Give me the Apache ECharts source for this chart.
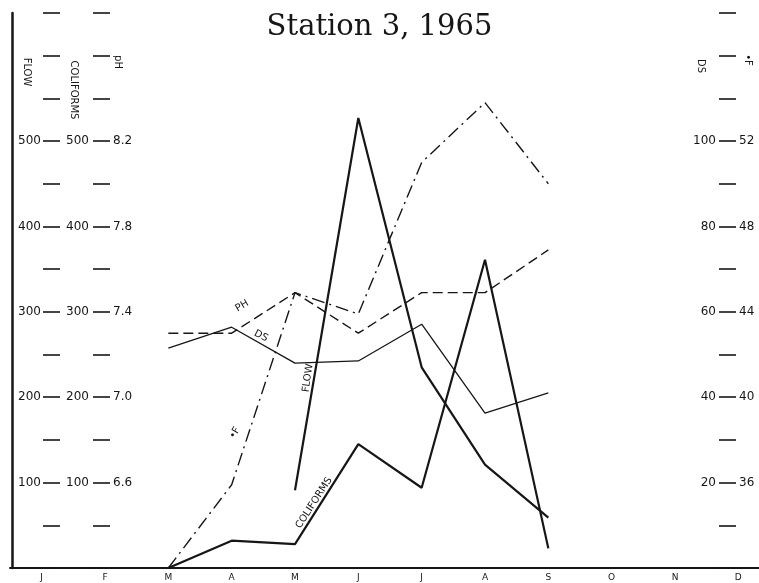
<!DOCTYPE html>
<html>
<head>
<meta charset="utf-8">
<script src="https://cdn.jsdelivr.net/npm/echarts@6/dist/echarts.min.js"></script>
<style>
html,body{margin:0;padding:0;background:#fff;}
#chart{width:759px;height:583px;}
</style>
</head>
<body>
<div id="chart"></div>
<script>
const months = ['J','F','M','A','M','J','J','A','S','O','N','D'];
const flow      = [null,null,null,null,91,527,235,121,59,null,null,null];
const coliforms = [null,null,0,32,28,145,94,361,23,null,null,null];
const ds        = [null,null,51.5,56.4,48,48.5,57.1,36.3,41,null,null,null];
const ph        = [null,null,7.30,7.30,7.49,7.30,7.49,7.49,7.69,null,null,null];
const tempF     = [null,null,32,35.9,44.9,43.9,51.0,53.8,50.0,null,null,null];

const flowTicks = [100,200,300,400,500];
const coliformTicks = [100,200,300,400,500];
const phTicks = ['6.6','7.0','7.4','7.8','8.2'];
const dsTicks = [20,40,60,80,100];
const tempTicks = [36,40,44,48,52];

const INK = '#161616';
const LBL = {fontFamily:'DejaVu Sans', fontSize:12, color:INK};

const chart = echarts.init(document.getElementById('chart'));
const GL = 10, GW = 760, GRX = GL + GW;  // grid right edge x

function tickAxis(extra){
  return Object.assign({
    type:'value', splitLine:{show:false},
    axisLine:{show:false}, axisTick:{show:false}, axisLabel:{show:false}
  }, extra);
}

const option = {
  animation:false,
  backgroundColor:'#fff',
  title:{
    text:'Station 3, 1965', left:'center', top:8,
    textStyle:{fontFamily:'DejaVu Serif', fontSize:29, fontWeight:'normal', color:INK}
  },
  grid:{left:GL, top:13, width:GW, bottom:15, containLabel:false, outerBoundsMode:'none'},
  xAxis:{
    type:'category', data:months, boundaryGap:true,
    axisLine:{lineStyle:{color:INK, width:2}},
    axisTick:{inside:true, length:5, lineStyle:{color:INK, width:1.5}},
    axisLabel:{fontFamily:'DejaVu Sans', fontSize:9, color:INK, margin:5},
    splitLine:{show:false}
  },
  yAxis:[
    tickAxis({min:0, max:650, position:'left', offset:-2,
      axisLine:{show:true, lineStyle:{color:INK, width:2.5}}}),
    tickAxis({min:0, max:650, interval:50, position:'left', offset:-(43-GL),
      axisTick:{show:true, inside:true, length:17, lineStyle:{color:INK, width:1.6}},
      axisLabel:Object.assign({show:true, margin:2,
        formatter:v=>flowTicks.indexOf(Math.round(v))>=0?String(Math.round(v)):''}, LBL)}),
    tickAxis({min:0, max:650, interval:50, position:'left', offset:-(93-GL),
      axisTick:{show:true, inside:true, length:17, lineStyle:{color:INK, width:1.6}},
      axisLabel:Object.assign({show:true, margin:4,
        formatter:v=>coliformTicks.indexOf(Math.round(v))>=0?String(Math.round(v)):''}, LBL)}),
    tickAxis({min:6.2, max:8.8, interval:0.2, position:'left', offset:-(111-GL),
      axisLabel:Object.assign({show:true, inside:true, margin:2,
        formatter:v=>phTicks.indexOf(Number(v).toFixed(1))>=0?Number(v).toFixed(1):''}, LBL)}),
    tickAxis({min:0, max:130, interval:10, position:'right', offset:-(GRX-719),
      axisTick:{show:true, inside:false, length:17, lineStyle:{color:INK, width:1.6}},
      axisLabel:Object.assign({show:true, inside:true, margin:3,
        formatter:v=>dsTicks.indexOf(Math.round(v))>=0?String(Math.round(v)):''}, LBL)}),
    tickAxis({min:32, max:58, interval:2, position:'right', offset:-(GRX-738),
      axisLabel:Object.assign({show:true, margin:1,
        formatter:v=>tempTicks.indexOf(Math.round(v))>=0?String(Math.round(v)):''}, LBL)})
  ],
  series:[
    {name:'FLOW', type:'line', yAxisIndex:1, data:flow, symbol:'none',
      lineStyle:{color:INK, width:2.2}},
    {name:'COLIFORMS', type:'line', yAxisIndex:2, data:coliforms, symbol:'none',
      lineStyle:{color:INK, width:2.2}},
    {name:'DS', type:'line', yAxisIndex:4, data:ds, symbol:'none',
      lineStyle:{color:INK, width:1.3}},
    {name:'pH', type:'line', yAxisIndex:3, data:ph, symbol:'none',
      lineStyle:{color:INK, width:1.4, type:[10,5]}},
    {name:'°F', type:'line', yAxisIndex:5, data:tempF, symbol:'none',
      lineStyle:{color:INK, width:1.4, type:[13,5,2,5]}}
  ],
  graphic:[
    {type:'text', x:27, y:72, rotation:-Math.PI/2,
      style:{text:'FLOW', font:'10px "DejaVu Sans"', fill:INK, align:'center', verticalAlign:'middle'}},
    {type:'text', x:74, y:90, rotation:-Math.PI/2,
      style:{text:'COLIFORMS', font:'10px "DejaVu Sans"', fill:INK, align:'center', verticalAlign:'middle'}},
    {type:'text', x:118, y:62, rotation:-Math.PI/2,
      style:{text:'pH', font:'10px "DejaVu Sans"', fill:INK, align:'center', verticalAlign:'middle'}},
    {type:'text', x:701, y:66, rotation:-Math.PI/2,
      style:{text:'DS', font:'10px "DejaVu Sans"', fill:INK, align:'center', verticalAlign:'middle'}},
    {type:'text', x:748, y:60, rotation:-Math.PI/2,
      style:{text:'•F', font:'10px "DejaVu Sans"', fill:INK, align:'center', verticalAlign:'middle'}},
    {type:'text', x:242, y:306, rotation:Math.PI*30/180,
      style:{text:'PH', font:'10px "DejaVu Sans"', fill:INK, align:'center', verticalAlign:'middle'}},
    {type:'text', x:261, y:336, rotation:-Math.PI*28/180,
      style:{text:'DS', font:'10px "DejaVu Sans"', fill:INK, align:'center', verticalAlign:'middle'}},
    {type:'text', x:308, y:378, rotation:Math.PI*82/180,
      style:{text:'FLOW', font:'10px "DejaVu Sans"', fill:INK, align:'center', verticalAlign:'middle'}},
    {type:'text', x:314, y:503, rotation:Math.PI*57/180,
      style:{text:'COLIFORMS', font:'10px "DejaVu Sans"', fill:INK, align:'center', verticalAlign:'middle'}},
    {type:'text', x:235, y:433, rotation:Math.PI*60/180,
      style:{text:'•F', font:'10px "DejaVu Sans"', fill:INK, align:'center', verticalAlign:'middle'}}
  ]
};
chart.setOption(option);
</script>
</body>
</html>
